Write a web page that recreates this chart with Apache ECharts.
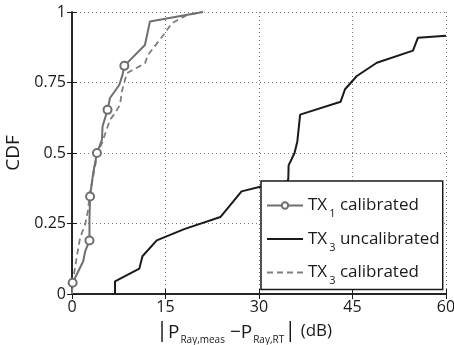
<!DOCTYPE html>
<html>
<head>
<meta charset="utf-8">
<script src="https://cdn.jsdelivr.net/npm/echarts@6/dist/echarts.min.js"></script>
<style>
  html, body { margin: 0; padding: 0; background: #fff; }
  #cdf { width: 454px; height: 345px; }
</style>
</head>
<body>
<div id="cdf"></div>
<script>
// error |P_meas - P_RT| in dB vs CDF
const tx1CalX = [0.1, 1.8, 2.1, 2.8, 2.8, 2.9, 3.4, 4.0, 4.8, 4.9, 5.7, 6.1, 7.6, 8.1, 8.4, 11.7, 12.5, 21];
const tx1CalY = [0.04, 0.116, 0.15, 0.19, 0.264, 0.346, 0.429, 0.5, 0.547, 0.594, 0.653, 0.695, 0.742, 0.777, 0.809, 0.883, 0.966, 1];
const tx1Marked = [0, 3, 5, 7, 10, 14]; // points that carry a circle

const tx3UncalX = [6.9, 6.9, 10.8, 11.3, 13.6, 18, 23.8, 27.2, 30.2, 34.6, 34.7, 34.75, 35.7, 36.15, 36.6, 43.1, 43.8, 45.7, 48.9, 54.7, 55.5, 60];
const tx3UncalY = [0, 0.045, 0.09, 0.134, 0.19, 0.23, 0.273, 0.364, 0.38, 0.4, 0.409, 0.456, 0.5, 0.541, 0.636, 0.682, 0.726, 0.773, 0.82, 0.863, 0.909, 0.916];

const tx3CalX = [0, 0.1, 0.75, 1.3, 2.1, 2.6, 2.8, 3.4, 4.1, 4.8, 6.1, 6.9, 7.7, 8.0, 8.8, 11.7, 12.2, 14.9, 16, 18.4, 21];
const tx3CalY = [0, 0.04, 0.13, 0.2, 0.245, 0.3, 0.35, 0.417, 0.5, 0.535, 0.618, 0.641, 0.671, 0.718, 0.783, 0.818, 0.848, 0.925, 0.96, 0.989, 1];

const xTicks = [0, 15, 30, 45, 60];
const yTicks = [0, 0.25, 0.5, 0.75, 1];

const seriesNames = ['TX1 calibrated', 'TX3 uncalibrated', 'TX3 calibrated'];

const FONT = '"Open Sans", sans-serif';

function pairs(xs, ys) {
  return xs.map(function (x, i) { return [x, ys[i]]; });
}

const tx1Data = pairs(tx1CalX, tx1CalY).map(function (p, i) {
  return tx1Marked.indexOf(i) >= 0 ? { value: p } : { value: p, symbol: 'none' };
});

const chart = echarts.init(document.getElementById('cdf'));

const frameAxis = {
  axisLine: { show: true, lineStyle: { color: '#1a1a1a', width: 1.5 } },
  axisTick: { show: true, inside: true, length: 5, lineStyle: { color: '#1a1a1a' } },
  axisLabel: { show: false },
  splitLine: { show: false }
};

const option = {
  animation: false,
  backgroundColor: '#fff',
  textStyle: { fontFamily: FONT },
  grid: { left: 72, right: 8, top: 12, bottom: 51, containLabel: false, outerBoundsMode: 'none' },
  xAxis: [
    Object.assign({}, frameAxis, {
      type: 'value', min: 0, max: 60, interval: 15, position: 'bottom',
      axisLabel: { show: true, color: '#1a1a1a', fontSize: 16, fontFamily: FONT, margin: 5,
        formatter: function (v) { return xTicks.indexOf(v) >= 0 ? String(v) : ''; } },
      splitLine: { show: true, lineStyle: { color: '#7a7a7a', type: [1, 3], width: 1 } },
      name: '{bar||}{P|P}{sub|Ray,meas}{P| \u2212P}{sub|Ray,RT}{bar||}{u| (dB)}',
      nameLocation: 'middle', nameGap: 24,
      nameTextStyle: {
        color: '#1a1a1a', fontFamily: FONT,
        padding: [0, 30, 0, 0],
        rich: {
          bar: { fontSize: 22, fontFamily: FONT, color: '#1a1a1a' },
          P: { fontSize: 19, fontFamily: FONT, color: '#1a1a1a', verticalAlign: 'bottom' },
          sub: { fontSize: 10, fontFamily: FONT, color: '#1a1a1a', verticalAlign: 'bottom', padding: [0, 0, -3, 1] },
          u: { fontSize: 17, fontFamily: FONT, color: '#1a1a1a' }
        }
      }
    }),
    Object.assign({}, frameAxis, { type: 'value', min: 0, max: 60, interval: 15, position: 'top' })
  ],
  yAxis: [
    Object.assign({}, frameAxis, {
      type: 'value', min: 0, max: 1, interval: 0.25, position: 'left',
      axisLabel: { show: true, color: '#1a1a1a', fontSize: 16, fontFamily: FONT, margin: 6,
        formatter: function (v) { return yTicks.indexOf(v) >= 0 ? String(v) : ''; } },
      splitLine: { show: true, lineStyle: { color: '#7a7a7a', type: [1, 3], width: 1 } },
      name: 'CDF', nameLocation: 'middle', nameGap: 37, nameRotate: 90,
      nameTextStyle: { color: '#1a1a1a', fontSize: 19, fontFamily: FONT }
    }),
    Object.assign({}, frameAxis, { type: 'value', min: 0, max: 1, interval: 0.25, position: 'right' })
  ],
  legend: {
    orient: 'vertical',
    left: 261, top: 181,
    padding: [16, 3, 3, 5],
    itemGap: 11,
    itemWidth: 36, itemHeight: 8,
    borderColor: '#1a1a1a', borderWidth: 1.5, borderRadius: 0,
    backgroundColor: '#fff',
    data: [
      { name: seriesNames[0] },
      { name: seriesNames[1], itemStyle: { opacity: 0 } },
      { name: seriesNames[2], itemStyle: { opacity: 0 } }
    ],
    formatter: function (name) {
      const m = name.match(/^TX(\d) (.*)$/);
      return '{t|TX}{s|' + m[1] + '}{t| ' + m[2] + '}';
    },
    textStyle: {
      color: '#1a1a1a', fontFamily: FONT,
      rich: {
        t: { fontSize: 17, fontFamily: FONT, color: '#1a1a1a', lineHeight: 20 },
        s: { fontSize: 11, fontFamily: FONT, color: '#1a1a1a', verticalAlign: 'bottom', padding: [0, 0, -4, 2] }
      }
    }
  },
  series: [
    {
      name: seriesNames[0], type: 'line', data: tx1Data,
      symbol: 'emptyCircle', symbolSize: 8,
      lineStyle: { color: '#6f6f6f', width: 2 },
      itemStyle: { color: '#6f6f6f', borderColor: '#6f6f6f', borderWidth: 1.5 },
      z: 3
    },
    {
      name: seriesNames[1], type: 'line', data: pairs(tx3UncalX, tx3UncalY),
      showSymbol: false, symbol: 'none',
      lineStyle: { color: '#1a1a1a', width: 2 },
      itemStyle: { color: '#1a1a1a' },
      z: 2
    },
    {
      name: seriesNames[2], type: 'line', data: pairs(tx3CalX, tx3CalY),
      showSymbol: false, symbol: 'none',
      lineStyle: { color: '#7f7f7f', width: 1.8, type: [6, 4] },
      itemStyle: { color: '#7f7f7f' },
      z: 2
    }
  ]
};

chart.setOption(option);

window.addEventListener('resize', function () { chart.resize(); });
</script>
</body>
</html>
